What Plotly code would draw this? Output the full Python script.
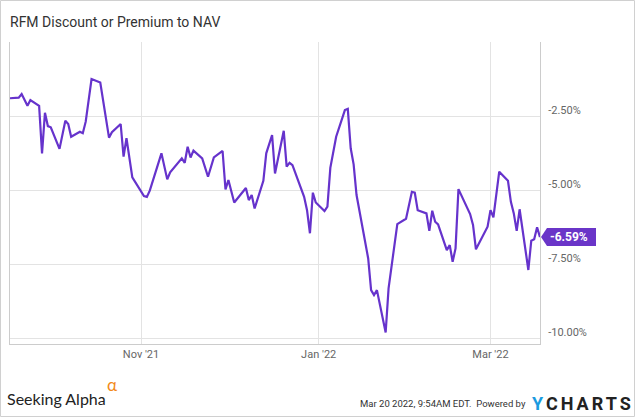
import plotly.graph_objects as go

# ---------------- data ----------------
dates = [
    "2021-09-17", "2021-09-20", "2021-09-21", "2021-09-23", "2021-09-24", "2021-09-27",
    "2021-09-28", "2021-09-29", "2021-09-30", "2021-10-01", "2021-10-04", "2021-10-06",
    "2021-10-07", "2021-10-08", "2021-10-11", "2021-10-12", "2021-10-13", "2021-10-15",
    "2021-10-18", "2021-10-21", "2021-10-22", "2021-10-25", "2021-10-26", "2021-10-27",
    "2021-10-29", "2021-11-02", "2021-11-03", "2021-11-04", "2021-11-08", "2021-11-10",
    "2021-11-11", "2021-11-15", "2021-11-16", "2021-11-17", "2021-11-18", "2021-11-19",
    "2021-11-22", "2021-11-24", "2021-11-26", "2021-11-29", "2021-11-30", "2021-12-01",
    "2021-12-03", "2021-12-07", "2021-12-08", "2021-12-09", "2021-12-10", "2021-12-13",
    "2021-12-14", "2021-12-16", "2021-12-17", "2021-12-20", "2021-12-21", "2021-12-22",
    "2021-12-23", "2021-12-27", "2021-12-28", "2021-12-29", "2021-12-30", "2021-12-31",
    "2022-01-03", "2022-01-04", "2022-01-05", "2022-01-07", "2022-01-10", "2022-01-11",
    "2022-01-12", "2022-01-13", "2022-01-14", "2022-01-18", "2022-01-19", "2022-01-20",
    "2022-01-21", "2022-01-24", "2022-01-25", "2022-01-28", "2022-01-31", "2022-02-02",
    "2022-02-03", "2022-02-04", "2022-02-07", "2022-02-08", "2022-02-09", "2022-02-10",
    "2022-02-11", "2022-02-14", "2022-02-15", "2022-02-16", "2022-02-17", "2022-02-18",
    "2022-02-22", "2022-02-23", "2022-02-24", "2022-02-28", "2022-03-01", "2022-03-02",
    "2022-03-04", "2022-03-07", "2022-03-08", "2022-03-09", "2022-03-10", "2022-03-11",
    "2022-03-14", "2022-03-15", "2022-03-16", "2022-03-17", "2022-03-18",
]
values = [
    -1.90, -1.88, -1.76, -2.15, -1.96, -2.16,
    -3.76, -2.39, -2.84, -2.88, -3.61, -2.66,
    -2.77, -3.20, -3.03, -3.08, -2.69, -1.25,
    -1.37, -3.23, -3.05, -2.77, -3.87, -3.25,
    -4.57, -5.20, -5.23, -5.02, -3.76, -4.64,
    -4.40, -3.93, -4.08, -3.54, -3.90, -3.67,
    -3.93, -4.55, -3.90, -3.68, -4.98, -4.66,
    -5.42, -4.93, -5.34, -5.17, -5.62, -4.69,
    -3.76, -3.14, -4.44, -3.00, -4.21, -4.08,
    -4.16, -5.23, -5.68, -6.46, -5.09, -5.42,
    -5.71, -5.56, -4.25, -3.20, -2.30, -2.26,
    -3.59, -4.13, -5.17, -7.31, -8.38, -8.55,
    -8.38, -9.81, -8.32, -6.15, -5.97, -5.06,
    -5.09, -5.68, -5.79, -6.38, -5.70, -6.07,
    -6.16, -7.03, -6.86, -7.42, -6.97, -4.97,
    -5.81, -6.18, -7.00, -6.24, -5.68, -5.92,
    -4.38, -4.69, -5.40, -5.79, -6.38, -5.65,
    -7.70, -6.71, -6.66, -6.26, -6.59,
]
x_tick_vals = ["2021-11-01", "2022-01-01", "2022-03-01"]
x_tick_text = ["Nov '21", "Jan '22", "Mar '22"]
y_tick_vals = [-10.0, -7.5, -5.0, -2.5]
y_tick_text = ["-10.00%", "-7.50%", "-5.00%", "-2.50%"]
title_text = "RFM Discount or Premium to NAV"
timestamp_text = "Mar 20 2022, 9:54AM EDT."

# ---------------- layout geometry ----------------
W, H = 635, 417
L, R, T, B = 10, 95, 42, 73
PW, PH = W - L - R, H - T - B


def px(xp):
    return (xp - L) / PW


def py(yp):
    return (H - B - yp) / PH


LINE = "#6633cc"
FONT = "Roboto"

fig = go.Figure()
fig.add_trace(go.Scatter(
    x=dates, y=values, mode="lines",
    line=dict(color=LINE, width=2.2),
    hoverinfo="skip", showlegend=False,
))

last_val = values[-1]

fig.update_layout(
    width=W, height=H,
    margin=dict(l=L, r=R, t=T, b=B, pad=0),
    paper_bgcolor="white", plot_bgcolor="white",
    showlegend=False,
    font=dict(family=FONT, size=11, color="#666"),
    xaxis=dict(
        type="date", range=[dates[0], dates[-1]],
        tickvals=x_tick_vals, ticktext=x_tick_text,
        showgrid=True, gridcolor="#e3e3e3", gridwidth=1,
        showline=True, linecolor="#cccccc", linewidth=1, mirror=False,
        ticks="", zeroline=False,
        tickfont=dict(family=FONT, size=11, color="#666"),
    ),
    yaxis=dict(
        side="right", range=[-10.2, 0.0],
        tickvals=y_tick_vals, ticktext=y_tick_text,
        showgrid=True, gridcolor="#e3e3e3", gridwidth=1,
        showline=True, linecolor="#cccccc", linewidth=1, mirror=True,
        ticks="", zeroline=False,
        ticklabelshift=-6, ticklabelstandoff=5,
        tickfont=dict(family=FONT, size=11, color="#666"),
    ),
)

# end-value flag
fig.add_shape(
    type="path", xref="paper", yref="y",
    xsizemode="pixel", ysizemode="pixel",
    xanchor=1, yanchor=last_val,
    path="M1,0 L7,9 L56,9 L56,-9 L7,-9 Z",
    fillcolor="#6a35c8", line=dict(width=0), layer="above",
)
fig.add_annotation(
    x=1, y=last_val, xref="paper", yref="y",
    text="<b>%.2f%%</b>" % last_val, showarrow=False,
    xanchor="left", yanchor="middle", xshift=8,
    font=dict(family=FONT, size=12, color="white"),
)

# outer border
fig.add_shape(
    type="rect", xref="paper", yref="paper",
    x0=px(0.5), x1=px(634.5), y0=py(416.5), y1=py(0.5),
    line=dict(color="#d0d0d0", width=1), fillcolor="rgba(0,0,0,0)",
)

# title
fig.add_annotation(
    x=px(8), y=py(22), xref="paper", yref="paper",
    text=title_text, showarrow=False, xanchor="left", yanchor="middle",
    font=dict(family=FONT, size=14, color="#333"),
)

# footer
fig.add_annotation(
    x=px(6), y=py(398), xref="paper", yref="paper",
    text="Seeking Alpha", showarrow=False, xanchor="left", yanchor="middle",
    font=dict(family="Lato", size=16, color="#222"), borderpad=0,
)
fig.add_annotation(
    x=px(106), y=py(384), xref="paper", yref="paper",
    text="\u03b1", showarrow=False, xanchor="left", yanchor="middle",
    font=dict(family="Lato", size=17, color="#f28a1c"), borderpad=0,
)
fig.add_annotation(
    x=px(528), y=py(404), xref="paper", yref="paper",
    text=timestamp_text + "  Powered by", showarrow=False,
    xanchor="right", yanchor="middle",
    font=dict(family=FONT, size=9.5, color="#333"),
)
fig.add_annotation(
    x=px(530), y=py(404), xref="paper", yref="paper",
    text="<b><span style='color:#1a9be0;letter-spacing:3px'>Y</span>"
         "<span style='letter-spacing:3px'>CHARTS</span></b>",
    showarrow=False, xanchor="left", yanchor="middle",
    font=dict(family=FONT, size=18, color="#222"),
)

fig.write_html("out.html")
